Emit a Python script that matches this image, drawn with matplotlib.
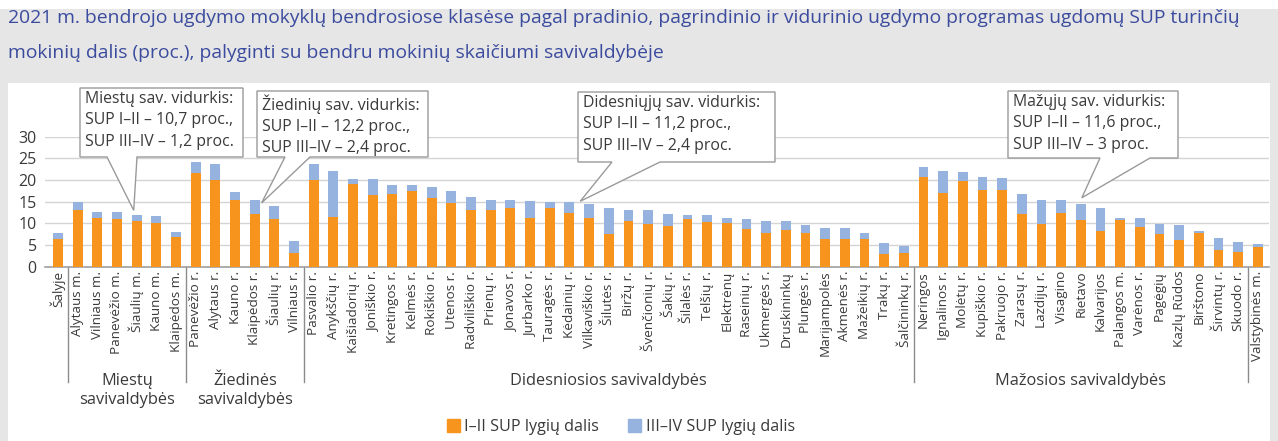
import numpy as np
import matplotlib
matplotlib.use("Agg")
import matplotlib.pyplot as plt
import matplotlib.patches as mpatches
from matplotlib.transforms import blended_transform_factory

plt.rcParams["font.family"] = ["Open Sans", "DejaVu Sans"]

# --- data -----------------------------------------------------------------
municipalities = [
    "Šalyje",
    "Alytaus m.", "Vilniaus m.", "Panevėžio m.", "Šiaulių m.", "Kauno m.", "Klaipėdos m.",
    "Panevėžio r.", "Alytaus r.", "Kauno r.", "Klaipėdos r.", "Šiaulių r.", "Vilniaus r.",
    "Pasvalio r.", "Anykščių r.", "Kaišiadorių r.", "Joniškio r.", "Kretingos r.", "Kelmės r.",
    "Rokiškio r.", "Utenos r.", "Radviliškio r.", "Prienų r.", "Jonavos r.", "Jurbarko r.",
    "Tauragės r.", "Kėdainių r.", "Vilkaviškio r.", "Šilutės r.", "Biržų r.", "Švenčionių r.",
    "Šakių r.", "Šilalės r.", "Telšių r.", "Elektrėnų", "Raseinių r.", "Ukmergės r.",
    "Druskininkų", "Plungės r.", "Marijampolės", "Akmenės r.", "Mažeikių r.", "Trakų r.",
    "Šalčininkų r.",
    "Neringos", "Ignalinos r.", "Molėtų r.", "Kupiškio r.", "Pakruojo r.", "Zarasų r.",
    "Lazdijų r.", "Visagino", "Rietavo", "Kalvarijos", "Palangos m.", "Varėnos r.",
    "Pagėgių", "Kazlų Rūdos", "Birštono", "Širvintų r.", "Skuodo r.",
    "Valstybinės m.",
]
sup_1_2 = [
    6.5,
    13.2, 11.2, 10.9, 10.5, 10.2, 6.9,
    21.7, 20.0, 15.5, 12.2, 10.9, 3.2,
    20.0, 11.5, 19.1, 16.5, 16.8, 17.5, 15.8, 14.8, 13.2, 13.2, 13.5, 11.2,
    13.5, 12.5, 11.2, 7.5, 10.5, 9.8, 9.4, 11.1, 10.4, 10.2, 8.8, 7.8,
    8.5, 7.8, 6.3, 6.5, 6.3, 2.9, 3.2,
    20.8, 17.1, 19.8, 17.8, 17.8, 12.1, 9.8, 12.5, 10.8, 8.2, 10.8, 9.2,
    7.5, 6.2, 7.8, 3.9, 3.5,
    4.6,
]
sup_3_4 = [
    1.2,
    1.8, 1.4, 1.7, 1.5, 1.4, 1.1,
    2.5, 3.8, 1.8, 3.1, 3.0, 2.8,
    3.8, 10.7, 1.1, 3.7, 2.0, 1.3, 2.7, 2.7, 3.0, 2.3, 2.0, 4.0,
    1.4, 2.4, 3.3, 6.0, 2.7, 3.4, 2.8, 0.8, 1.5, 1.1, 2.1, 2.8,
    2.1, 1.8, 2.7, 2.5, 1.4, 2.5, 1.6,
    2.3, 5.1, 2.0, 3.0, 2.7, 4.7, 5.7, 3.0, 3.7, 5.3, 0.4, 2.0,
    2.3, 3.4, 0.4, 2.7, 2.1,
    0.7,
]
group_names = ["Miestų\nsavivaldybės", "Žiedinės\nsavivaldybės",
               "Didesniosios savivaldybės", "Mažosios savivaldybės"]
group_sizes = [6, 6, 31, 17]

callout_texts = [
    "Miestų sav. vidurkis:\nSUP I–II – 10,7 proc.,\nSUP III–IV – 1,2 proc.",
    "Žiedinių sav. vidurkis:\nSUP I–II – 12,2 proc.,\nSUP III–IV – 2,4 proc.",
    "Didesniųjų sav. vidurkis:\nSUP I–II – 11,2 proc.,\nSUP III–IV – 2,4 proc.",
    "Mažųjų sav. vidurkis:\nSUP I–II – 11,6 proc.,\nSUP III–IV – 3 proc.",
]
callout_bars = ["Šiaulių m.", "Klaipėdos r.", "Kėdainių r.", "Rietavo"]

TITLE = ("2021 m. bendrojo ugdymo mokyklų bendrosiose klasėse pagal pradinio, pagrindinio "
         "ir vidurinio ugdymo programas ugdomų SUP turinčių",
         "mokinių dalis (proc.), palyginti su bendru mokinių skaičiumi savivaldybėje")

ORANGE = "#F7941D"
BLUE = "#95B3DE"
TEXT = "#3a3a3a"

# --- figure ---------------------------------------------------------------
W, H = 1278, 441
fig = plt.figure(figsize=(W / 100, H / 100), dpi=100, facecolor="#e6e6e6")


def px(x, y):
    """pixel (from top-left) -> figure fraction"""
    return x / W, 1 - y / H


fig.patches.append(mpatches.Rectangle((0, 1 - 9 / H), 1, 9 / H, transform=fig.transFigure,
                                      facecolor="white", edgecolor="none", zorder=-2))
fig.patches.append(mpatches.Rectangle((8 / W, 0), 1262 / W, 1 - 83 / H, transform=fig.transFigure,
                                      facecolor="white", edgecolor="none", zorder=-2))
fig.text(*px(8, 18), TITLE[0], color="#3b4b9e", fontsize=13.9, va="center", ha="left")
fig.text(*px(8, 53), TITLE[1], color="#3b4b9e", fontsize=13.9, va="center", ha="left")

ax_left, ax_right, ax_top, ax_bot = 45.2, 1268.7, 136.7, 266.7
ax = fig.add_axes([ax_left / W, 1 - ax_bot / H, (ax_right - ax_left) / W, (ax_bot - ax_top) / H])
ax.set_facecolor("none")

x = np.arange(len(municipalities))
ax.bar(x, sup_1_2, width=0.5, color=ORANGE, zorder=3, label="I–II SUP lygių dalis")
ax.bar(x, sup_3_4, width=0.5, bottom=sup_1_2, color=BLUE, zorder=3, label="III–IV SUP lygių dalis")

ax.set_xlim(-0.65, len(municipalities) - 0.45)
ax.set_ylim(0, 30)
ax.set_yticks(range(0, 31, 5))
ax.yaxis.grid(True, color="#d4d4d4", linewidth=1)
ax.set_axisbelow(True)
for s in ["top", "right", "left"]:
    ax.spines[s].set_visible(False)
ax.spines["bottom"].set_color("#a0a0a0")
ax.spines["bottom"].set_linewidth(1.2)
ax.set_xticks(x)
ax.set_xticklabels(municipalities, rotation=90, fontsize=9.7, color=TEXT)
ax.tick_params(axis="x", length=0, pad=3)
ax.tick_params(axis="y", length=0, pad=6, labelsize=11.5, labelcolor=TEXT)

# group separators and labels below the axis
trans = blended_transform_factory(ax.transData, ax.transAxes)
sep_bottom = -(382 - ax_bot) / (ax_bot - ax_top)
lab_y = -(373 - ax_bot) / (ax_bot - ax_top)
start = 1
bounds = [start - 0.5]
for name, size in zip(group_names, group_sizes):
    end = start + size
    bounds.append(end - 0.5)
    ax.text((start + end - 1) / 2, lab_y, name, transform=trans, ha="center", va="top",
            fontsize=11.8, color=TEXT, linespacing=1.25)
    start = end
for b in bounds:
    ax.plot([b, b], [0, sep_bottom], transform=trans, color="#8c8c8c", lw=1, clip_on=False)

# callouts (box in pixels, pointer tip at the bar top)
boxes = [(80, 243, 88, 157, 107, 137),
         (257, 428, 91, 157, 285, 310),
         (578, 775, 92, 162, 612, 660),
         (1008, 1178, 91, 158, 1100, 1150)]
tip_offsets = [(-0.15, 1.0), (0.35, -0.6), (0.55, 0.2), (0.05, 1.4)]
inv = fig.transFigure.inverted()
for text, bar, (l, r, t, b, b1, b2), (dx, dy) in zip(callout_texts, callout_bars, boxes, tip_offsets):
    i = municipalities.index(bar)
    tip = inv.transform(ax.transData.transform((i + dx, sup_1_2[i] + sup_3_4[i] + dy)))
    verts = [px(l, t), px(r, t), px(r, b), px(b2, b), tuple(tip), px(b1, b), px(l, b)]
    poly = mpatches.Polygon(verts, closed=True, transform=fig.transFigure, facecolor="white",
                            edgecolor="#9a9a9a", lw=1, zorder=5)
    fig.patches.append(poly)
    fig.text(*px(l + 5, t + 3), text, fontsize=11.4, color=TEXT, va="top", ha="left",
             linespacing=1.45, zorder=6)

handles = [mpatches.Patch(color=ORANGE, label="I–II SUP lygių dalis"),
           mpatches.Patch(color=BLUE, label="III–IV SUP lygių dalis")]
fig.legend(handles=handles, loc="center", bbox_to_anchor=px(621, 427), ncol=2, frameon=False,
           fontsize=11.6, handlelength=0.8, handleheight=0.8, handletextpad=0.3, columnspacing=1.8,
           labelcolor=TEXT)

fig.savefig("out.png", dpi=100, facecolor=fig.get_facecolor())
